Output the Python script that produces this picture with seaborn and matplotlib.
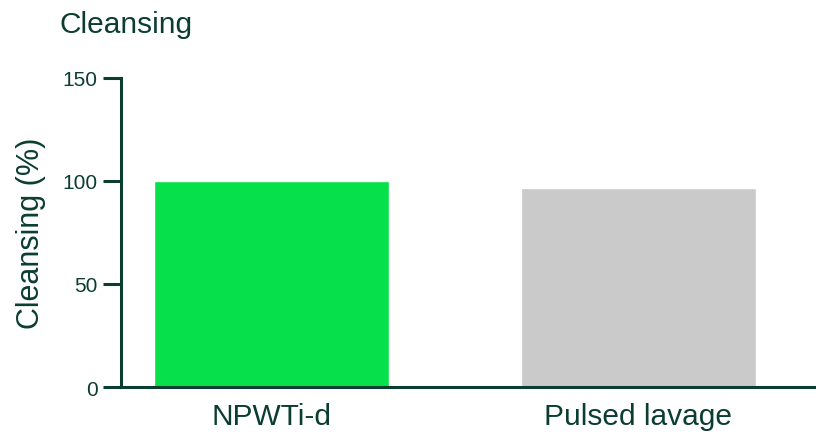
import matplotlib
matplotlib.use("Agg")
import matplotlib.pyplot as plt
import seaborn as sns
import pandas as pd

categories = ["NPWTi-d", "Pulsed lavage"]
values = [100, 96.6]
bar_colors = ["#06E04A", "#CACACA"]
yticks = [0, 50, 100, 150]

sns.set_style("white")
plt.rcParams['font.family'] = ['Liberation Sans', 'DejaVu Sans']
dark = "#0B3D31"

df = pd.DataFrame({"cat": categories, "val": values})
fig = plt.figure(figsize=(8.16, 4.35), dpi=100)
ax = fig.add_axes([121/816, 1-388/435, 1-121/816, (388-79)/435])
sns.barplot(data=df, x="cat", y="val", hue="cat", palette=bar_colors,
            width=0.64, legend=False, ax=ax, saturation=1)
ax.set_xlim(-0.41, 1.484)
ax.set_ylim(0, 150)
ax.set_yticks(yticks)
ax.set_yticklabels([str(t) for t in yticks], fontsize=15, color=dark)
ax.tick_params(axis='y', length=13, width=2.2, color=dark, pad=4, left=True)
ax.tick_params(axis='x', length=0, labelsize=21.5, labelcolor=dark, pad=11)
ax.set_xlabel("")
ax.set_ylabel("Cleansing (%)", fontsize=22, color=dark, labelpad=12)
for s in ["top", "right"]:
    ax.spines[s].set_visible(False)
for s in ["left", "bottom"]:
    ax.spines[s].set_color(dark)
    ax.spines[s].set_linewidth(2.2)
fig.text(59/816, 1-25/435, "Cleansing", fontsize=21.5, color=dark, va="center", ha="left")
fig.savefig("out.png", dpi=100)
